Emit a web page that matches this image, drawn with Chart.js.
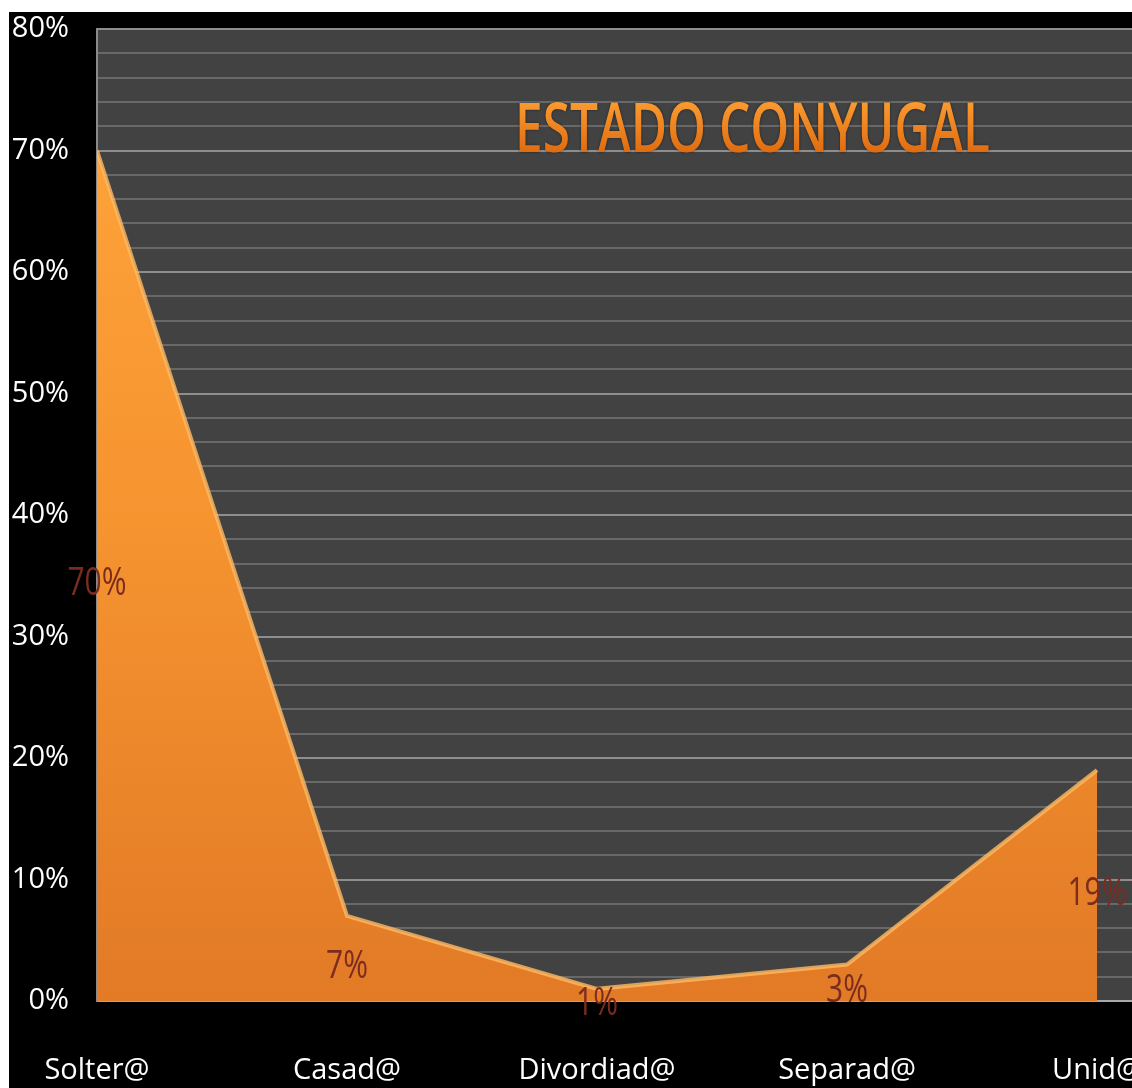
<!DOCTYPE html>
<html>
<head>
<meta charset="utf-8">
<title>Estado conyugal</title>
<script src="https://cdn.jsdelivr.net/npm/chart.js@4.4.1/dist/chart.umd.min.js"></script>
<style>
    html, body { margin: 0; padding: 0; background: #fff; }
    #wrap { position: absolute; left: 9px; top: 12px; width: 1123px; height: 1076px; background: #000; }
</style>
</head>
<body>
<div id="wrap"><canvas id="estado-chart"></canvas></div>
<script>
/*------------------------ DATOS ---------------------------------*/

const categorias = ['Solter@', 'Casad@', 'Divordiad@', 'Separad@', 'Unid@']
const porcentajes = [70, 7, 1, 3, 19]
const yTicks = [0, 10, 20, 30, 40, 50, 60, 70, 80]
const titulo = 'ESTADO CONYUGAL'

/*------------------------ PLUGINS ---------------------------------*/

// fondo gris del area de trazado
const fondoPlugin = {
    id: 'fondo',
    beforeDraw(chart) {
        const {ctx, chartArea: a} = chart
        ctx.save()
        ctx.fillStyle = '#424242'
        ctx.fillRect(a.left, a.top, a.right - a.left, a.bottom - a.top)
        ctx.restore()
    }
}

// titulo dentro del grafico
const tituloPlugin = {
    id: 'tituloDentro',
    beforeDatasetsDraw(chart) {
        const {ctx} = chart
        ctx.save()
        ctx.font = '600 50px "Open Sans"'
        const w = ctx.measureText(titulo).width
        ctx.translate(506, 140)
        ctx.scale(475 / w, 49 / (0.714 * 50))
        const g = ctx.createLinearGradient(0, -36, 0, 0)
        g.addColorStop(0, '#fa9a30')
        g.addColorStop(1, '#e06c10')
        ctx.fillStyle = g
        ctx.shadowColor = 'rgba(0,0,0,0.5)'
        ctx.shadowBlur = 3
        ctx.textAlign = 'left'
        ctx.textBaseline = 'alphabetic'
        ctx.fillText(titulo, 0, 0)
        ctx.restore()
    }
}

// etiquetas de datos en el centro del area
const etiquetasPlugin = {
    id: 'etiquetas',
    afterDatasetsDraw(chart) {
        const {ctx} = chart
        const y = chart.scales.y
        const meta = chart.getDatasetMeta(0)
        ctx.save()
        ctx.fillStyle = '#7b2c1f'
        ctx.font = '30px "Open Sans"'
        ctx.textAlign = 'center'
        ctx.textBaseline = 'middle'
        meta.data.forEach((pt, i) => {
            const v = porcentajes[i]
            ctx.save()
            ctx.translate(pt.x, y.getPixelForValue(v / 2) + 9)
            ctx.scale(1, 1.25)
            ctx.fillText(v + '%', 0, 0)
            ctx.restore()
        })
        ctx.restore()
    }
}

/*------------------------ GRAFICO ---------------------------------*/

const estadoCanvas = document.querySelector('#estado-chart').getContext('2d')

const estadoData = {
    datasets: [{
        label: 'Estado conyugal',
        data: porcentajes.map((v, i) => ({x: i, y: v})),
        fill: 'origin',
        tension: 0,
        pointRadius: 0,
        borderWidth: 4,
        borderColor: 'rgba(255, 186, 100, 0.8)',
        backgroundColor: ctx => {
            const {chart} = ctx
            const a = chart.chartArea
            if (!a) return '#f08c2c'
            const g = chart.ctx.createLinearGradient(0, a.top, 0, a.bottom)
            g.addColorStop(0, '#ffa63c')
            g.addColorStop(0.5, '#f69430')
            g.addColorStop(1, '#e27a26')
            return g
        }
    }]
}

const tickFont = {family: '"Open Sans"', size: 29, weight: 500}

const estadoOptions = {
    type: 'line',
    data: estadoData,
    options: {
        responsive: true,
        maintainAspectRatio: false,
        animation: false,
        layout: {
            padding: {top: 17, right: 0, bottom: 0, left: 0}
        },
        scales: {
            x: {
                type: 'linear',
                min: 0,
                max: 4.14,
                afterBuildTicks: s => { s.ticks = categorias.map((c, i) => ({value: i})) },
                afterFit: s => { s.height = 87; s.paddingLeft = 0; s.paddingRight = 0 },
                ticks: {
                    callback: v => categorias[v],
                    color: '#fff',
                    font: tickFont,
                    padding: 52,
                    autoSkip: false,
                    maxRotation: 0
                },
                grid: { display: false, drawTicks: false },
                border: { color: '#a8a8a8', width: 2 }
            },
            y: {
                min: 0,
                max: 80,
                afterFit: s => { s.width = 88; s.paddingTop = 0; s.paddingBottom = 0 },
                ticks: {
                    stepSize: 2,
                    autoSkip: false,
                    color: '#fff',
                    font: tickFont,
                    padding: 28,
                    callback: v => yTicks.includes(v) ? v + '%' : ''
                },
                grid: {
                    drawTicks: false,
                    lineWidth: 2,
                    color: c => c.tick && c.tick.value % 10 === 0 ? '#8e8e8e' : '#686868'
                },
                border: { color: '#8a8a8a', width: 2 }
            }
        },
        plugins: {
            legend: { display: false },
            tooltip: { enabled: false }
        }
    },
    plugins: [fondoPlugin, tituloPlugin, etiquetasPlugin]
}

const estadoChart = new Chart(estadoCanvas, estadoOptions)

/*------------------------------------------------------------------------*/
</script>
</body>
</html>
